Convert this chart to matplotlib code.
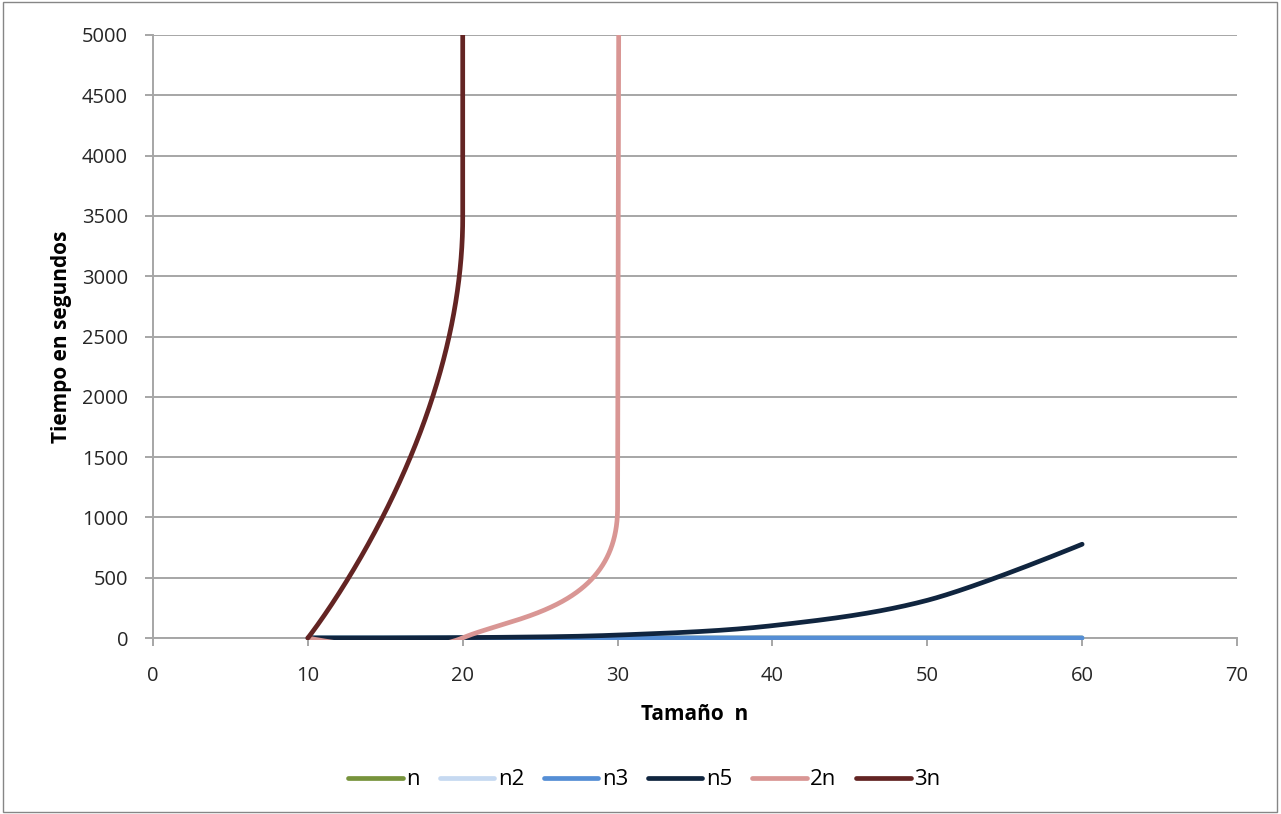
import numpy as np
import matplotlib
matplotlib.use('Agg')
import matplotlib.pyplot as plt
from matplotlib.bezier import BezierSegment
from matplotlib.patches import Rectangle
from matplotlib.transforms import Bbox, TransformedBbox

plt.rcParams['font.family'] = ['Open Sans', 'DejaVu Sans']

# Tamaño del problema
tamanos = [10, 20, 30, 40, 50, 60]

# Tiempo en segundos (una operacion = 1 microsegundo)
t_n = [0.00001, 0.00002, 0.00003, 0.00004, 0.00005, 0.00006]
t_n2 = [0.0001, 0.0004, 0.0009, 0.0016, 0.0025, 0.0036]
t_n3 = [0.001, 0.008, 0.027, 0.064, 0.125, 0.216]
t_n5 = [0.1, 3.2, 24.3, 102.4, 312.5, 777.6]
t_2n = [0.001, 1.05, 1073.7, 1099511.6, 1.126e9, 1.153e12]
t_3n = [0.059, 3486.8, 2.059e8, 1.216e13, 7.179e17, 4.239e22]

series = [t_n, t_n2, t_n3, t_n5, t_2n, t_3n]
nombres = ['n', 'n2', 'n3', 'n5', '2n', '3n']
colores = ['#77933C', '#C6D9F1', '#558ED5', '#10253F', '#D99694', '#632423']

W, H, DPI = 1281, 814, 100
LEFT, RIGHT, BOTTOM, TOP = 153 / W, 1237 / W, 1 - 638 / H, 1 - 35 / H
XMAX, YMAX = 70, 5000


def curva_suave(xs, ys, sx, sy, npts=3000):
    # linea suavizada tipo Excel: Bezier calculado en pixeles,
    # tangente (P+ - P-)/6 limitada a la mitad del tramo
    p = np.column_stack([np.array(xs, float) * sx, np.array(ys, float) * sy])
    n = len(p)
    antes = p.copy()
    despues = p.copy()
    for i in range(1, n - 1):
        v = p[i + 1] - p[i - 1]
        L = np.hypot(*v)
        u = v / L
        d01 = np.hypot(*(p[i] - p[i - 1]))
        d12 = np.hypot(*(p[i + 1] - p[i]))
        antes[i] = p[i] - u * min(L / 6, d01 / 2)
        despues[i] = p[i] + u * min(L / 6, d12 / 2)
    t = np.linspace(0, 1, npts)
    partes = []
    for i in range(n - 1):
        seg = BezierSegment(np.array([p[i], despues[i], antes[i + 1], p[i + 1]]))
        partes.append(seg(t))
    pts = np.vstack(partes)
    return pts[:, 0] / sx, pts[:, 1] / sy


fig = plt.figure(figsize=(W / DPI, H / DPI), dpi=DPI)
ax = fig.add_axes([LEFT, BOTTOM, RIGHT - LEFT, TOP - BOTTOM])

sx = W * (RIGHT - LEFT) / XMAX
sy = H * (TOP - BOTTOM) / YMAX

clip = TransformedBbox(Bbox([[0, -0.004], [1, 1]]), ax.transAxes)
for k, (ys, nombre, color) in enumerate(zip(series, nombres, colores)):
    cx, cy = curva_suave(tamanos, ys, sx, sy)
    linea, = ax.plot(cx, cy, color=color, lw=3.4, label=nombre,
                     solid_capstyle='round', zorder=3 + k)
    linea.set_clip_box(clip)

ax.set_xlim(0, XMAX)
ax.set_ylim(0, YMAX)
ax.set_xticks(range(0, 71, 10))
ax.set_yticks(range(0, 5001, 500))

ax.grid(axis='y', color='#a6a6a6', lw=1.4)
ax.set_axisbelow(True)
for lado in ['top', 'right']:
    ax.spines[lado].set_visible(False)
for lado in ['left', 'bottom']:
    ax.spines[lado].set_color('#a6a6a6')
    ax.spines[lado].set_linewidth(1.4)
ax.tick_params(axis='both', colors='#a6a6a6', labelcolor='#262626',
               labelsize=14.5, length=6, width=1.4, direction='out')
ax.tick_params(axis='x', pad=14)
ax.tick_params(axis='y', pad=12)

ax.set_xlabel('Tamaño  n', fontsize=15, fontweight='bold', labelpad=13)
ax.set_ylabel('Tiempo en segundos', fontsize=15, fontweight='bold', labelpad=7)

fig.legend(loc='center', bbox_to_anchor=(0.503, 0.042), ncol=6, frameon=False,
           fontsize=16, handlelength=2.45, handletextpad=0.15, columnspacing=0.9)

# Marco del grafico
fig.patches.append(Rectangle((0.002, 0.002), 0.995, 0.996, transform=fig.transFigure,
                             fill=False, edgecolor='#868686', lw=1))

fig.savefig('out.png', dpi=DPI)
